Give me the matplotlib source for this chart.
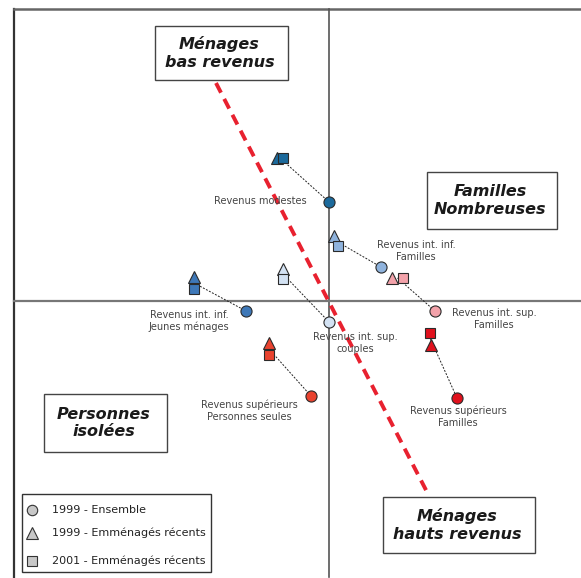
import matplotlib
matplotlib.use("Agg")
import matplotlib.pyplot as plt
from matplotlib.patches import Rectangle

# ---- Data (factorial plane coordinates) ----
groups = ["Revenus modestes",
          "Revenus int. inf.\nFamilles",
          "Revenus int. inf.\nJeunes ménages",
          "Revenus int. sup.\ncouples",
          "Revenus int. sup.\nFamilles",
          "Revenus supérieurs\nFamilles",
          "Revenus supérieurs\nPersonnes seules"]
ens1999_x = [0.00, 0.52, -0.83, 0.00, 1.06, 1.28, -0.18]
ens1999_y = [0.99, 0.34, -0.10, -0.21, -0.10, -0.97, -0.95]
rec1999_x = [-0.52, 0.05, -1.35, -0.46, 0.63, 1.02, -0.60]
rec1999_y = [1.43, 0.65, 0.24, 0.32, 0.23, -0.44, -0.42]
rec2001_x = [-0.46, 0.09, -1.35, -0.46, 0.74, 1.01, -0.60]
rec2001_y = [1.43, 0.55, 0.12, 0.22, 0.23, -0.32, -0.54]
legend_labels = ["1999 - Ensemble", "1999 - Emménagés récents", "2001 - Emménagés récents"]
zone_labels = ["Ménages\nbas revenus", "Familles\nNombreuses", "Personnes\nisolées", "Ménages\nhauts revenus"]

# ---- Styles / layout ----
colors = ["#1c6a9c", "#8fb3dd", "#3e78b8", "#d3e2f3", "#f3a2aa", "#e0111d", "#e9432f"]
label_pos = [(-0.22, 1.00, "right"), (0.87, 0.50, "center"), (-1.40, -0.20, "center"),
             (0.26, -0.42, "center"), (1.65, -0.18, "center"), (1.29, -1.16, "center"),
             (-0.80, -1.10, "center")]
zone_boxes = [(-1.74, 2.21, 1.33, 0.54), (0.98, 0.72, 1.30, 0.57),
              (-2.85, -1.51, 1.23, 0.58), (0.54, -2.52, 1.52, 0.56)]

W, H = 581, 578
fig = plt.figure(figsize=(W / 100, H / 100), dpi=100)
ax = fig.add_axes([0, 0, 1, 1])
ax.set_xlim(-3.29, 2.52)
ax.set_ylim(-2.77, 3.01)
ax.axis("off")

# frame and axes
ax.plot([-3.15, -3.15], [-2.77, 2.92], color="#333333", lw=1.6, zorder=1)
ax.plot([-3.15, 2.52], [2.92, 2.92], color="#666666", lw=1.8, zorder=1)
ax.plot([0, 0], [-2.76, 2.92], color="#555555", lw=1.2, zorder=1)
ax.plot([-3.15, 2.52], [0, 0], color="#777777", lw=1.6, zorder=1)

# red dashed diagonal
ax.plot([-1.13, 0.98], [2.18, -1.91], color="#e8212f", lw=2.8,
        dashes=(2.8, 1.8), zorder=2)

edge = "#2a2a2a"
for i in range(len(groups)):
    mx = (rec1999_x[i] + rec2001_x[i]) / 2
    my = (rec1999_y[i] + rec2001_y[i]) / 2
    ax.plot([mx, ens1999_x[i]], [my, ens1999_y[i]], color="#222222", lw=0.7,
            dashes=(2, 1.5), zorder=3)
    ax.plot(rec1999_x[i], rec1999_y[i], marker="^", ms=8.5, color=colors[i],
            mec=edge, mew=0.8, zorder=4, ls="none")
    ax.plot(rec2001_x[i], rec2001_y[i], marker="s", ms=7, color=colors[i],
            mec=edge, mew=0.8, zorder=5, ls="none")
    ax.plot(ens1999_x[i], ens1999_y[i], marker="o", ms=8, color=colors[i],
            mec=edge, mew=0.8, zorder=6, ls="none")
    lx, ly, ha = label_pos[i]
    ax.text(lx, ly, groups[i], ha=ha, va="center", fontsize=7, color="#444444",
            linespacing=1.25, zorder=7)

# zone boxes
for (bx, by, bw, bh), txt in zip(zone_boxes, zone_labels):
    ax.add_patch(Rectangle((bx, by), bw, bh, fill=True, facecolor="white",
                           edgecolor="#444444", lw=1.0, zorder=8))
    ax.text(bx + bw / 2 - 0.02, by + bh / 2, txt, ha="center", va="center",
            fontsize=11.5, fontweight="bold", fontstyle="italic", color="#1a1a1a",
            linespacing=1.2, zorder=9)

# legend
lgx, lgy, lgw, lgh = -3.07, -2.71, 1.89, 0.78
ax.add_patch(Rectangle((lgx, lgy), lgw, lgh, facecolor="white", edgecolor="#333333",
                       lw=1.0, zorder=8))
leg_markers = ["o", "^", "s"]
leg_sizes = [7.5, 8, 6.5]
leg_y = [-2.09, -2.32, -2.60]
for m, s, yy, lab in zip(leg_markers, leg_sizes, leg_y, legend_labels):
    ax.plot(-2.97, yy, marker=m, ms=s, color="#c8c8c8", mec="#333333", mew=0.8,
            zorder=9, ls="none")
    ax.text(-2.77, yy, lab, ha="left", va="center", fontsize=8, color="#222222", zorder=9)

fig.savefig("out.png", dpi=100)
